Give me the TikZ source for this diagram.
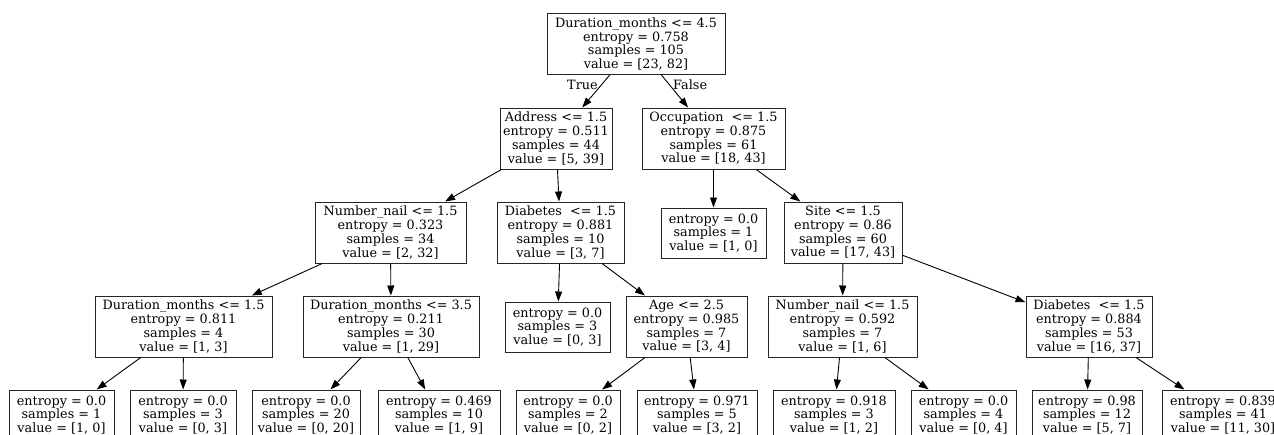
\documentclass[tikz,border=0pt]{standalone}
\usepackage{fontspec}
\setmainfont{DejaVu Serif}
\usetikzlibrary{arrows.meta}
\begin{document}
\begin{tikzpicture}[x=1pt, y=-1pt,
    font=\fontsize{12.8}{13.7}\selectfont,
    splitbox/.style={draw=black!85, line width=1pt, align=center, inner sep=0pt, minimum height=61pt},
    leafbox/.style={draw=black!85, line width=1pt, align=center, inner sep=0pt, minimum height=50pt},
    treeedge/.style={-{Triangle[length=10pt, width=7pt]}, line width=0.9pt}]
    \useasboundingbox (0,0) rectangle (1274,434);
    % koren i prvi nivo
    \node [splitbox, minimum width=178pt] (root) at (636,44)
        {Duration\_months <= 4.5\\entropy = 0.758\\samples = 105\\value = [23, 82]};
    \node [splitbox, minimum width=112pt] (addr) at (556,138.5)
        {Address <= 1.5\\entropy = 0.511\\samples = 44\\value = [5, 39]};
    \node [splitbox, minimum width=143pt] (occ) at (713.5,138.5)
        {Occupation~ <= 1.5\\entropy = 0.875\\samples = 61\\value = [18, 43]};
    % drugi nivo
    \node [splitbox, minimum width=151pt] (nn1) at (390.5,232.5)
        {Number\_nail <= 1.5\\entropy = 0.323\\samples = 34\\value = [2, 32]};
    \node [splitbox, minimum width=127pt] (diab1) at (560.5,232.5)
        {Diabetes~ <= 1.5\\entropy = 0.881\\samples = 10\\value = [3, 7]};
    \node [leafbox, minimum width=105pt] (leafA) at (713.5,233)
        {entropy = 0.0\\samples = 1\\value = [1, 0]};
    \node [splitbox, minimum width=118pt] (site) at (843,232.5)
        {Site <= 1.5\\entropy = 0.86\\samples = 60\\value = [17, 43]};
    % treci nivo
    \node [splitbox, minimum width=177pt] (dm1) at (183.5,326.5)
        {Duration\_months <= 1.5\\entropy = 0.811\\samples = 4\\value = [1, 3]};
    \node [splitbox, minimum width=176pt] (dm2) at (391,326.5)
        {Duration\_months <= 3.5\\entropy = 0.211\\samples = 30\\value = [1, 29]};
    \node [leafbox, minimum width=105pt] (leafB) at (557.5,327)
        {entropy = 0.0\\samples = 3\\value = [0, 3]};
    \node [splitbox, minimum width=121pt] (age) at (686.5,326.5)
        {Age <= 2.5\\entropy = 0.985\\samples = 7\\value = [3, 4]};
    \node [splitbox, minimum width=149pt] (nn2) at (842.5,326.5)
        {Number\_nail <= 1.5\\entropy = 0.592\\samples = 7\\value = [1, 6]};
    \node [splitbox, minimum width=126pt] (diab2) at (1089,326.5)
        {Diabetes~ <= 1.5\\entropy = 0.884\\samples = 53\\value = [16, 37]};
    % listovi na dnu
    \node [leafbox, minimum width=105pt] (l1) at (61.5,415) {entropy = 0.0\\samples = 1\\value = [1, 0]};
    \node [leafbox, minimum width=106pt] (l2) at (183,415) {entropy = 0.0\\samples = 3\\value = [0, 3]};
    \node [leafbox, minimum width=108pt] (l3) at (306,415) {entropy = 0.0\\samples = 20\\value = [0, 20]};
    \node [leafbox, minimum width=122pt] (l4) at (439,415) {entropy = 0.469\\samples = 10\\value = [1, 9]};
    \node [leafbox, minimum width=104pt] (l5) at (568,415) {entropy = 0.0\\samples = 2\\value = [0, 2]};
    \node [leafbox, minimum width=120pt] (l6) at (697,415) {entropy = 0.971\\samples = 5\\value = [3, 2]};
    \node [leafbox, minimum width=122pt] (l7) at (834,415) {entropy = 0.918\\samples = 3\\value = [1, 2]};
    \node [leafbox, minimum width=105pt] (l8) at (963.5,415) {entropy = 0.0\\samples = 4\\value = [0, 4]};
    \node [leafbox, minimum width=110pt] (l9) at (1087,415) {entropy = 0.98\\samples = 12\\value = [5, 7]};
    \node [leafbox, minimum width=122pt] (l10) at (1223,415) {entropy = 0.839\\samples = 41\\value = [11, 30]};
    % grane
    \draw [treeedge] (root) -- node[pos=0.3, anchor=east] (ltrue) {True} (addr);
    \draw [treeedge] (root) -- node[pos=0.3, anchor=west] (lfalse) {False} (occ);
    \foreach \a/\b in {addr/nn1, addr/diab1, occ/leafA, occ/site,
                       nn1/dm1, nn1/dm2, diab1/leafB, diab1/age, site/nn2, site/diab2,
                       dm1/l1, dm1/l2, dm2/l3, dm2/l4, age/l5, age/l6,
                       nn2/l7, nn2/l8, diab2/l9, diab2/l10}{
        \draw [treeedge] (\a) -- (\b);
    }
\end{tikzpicture}
\end{document}
